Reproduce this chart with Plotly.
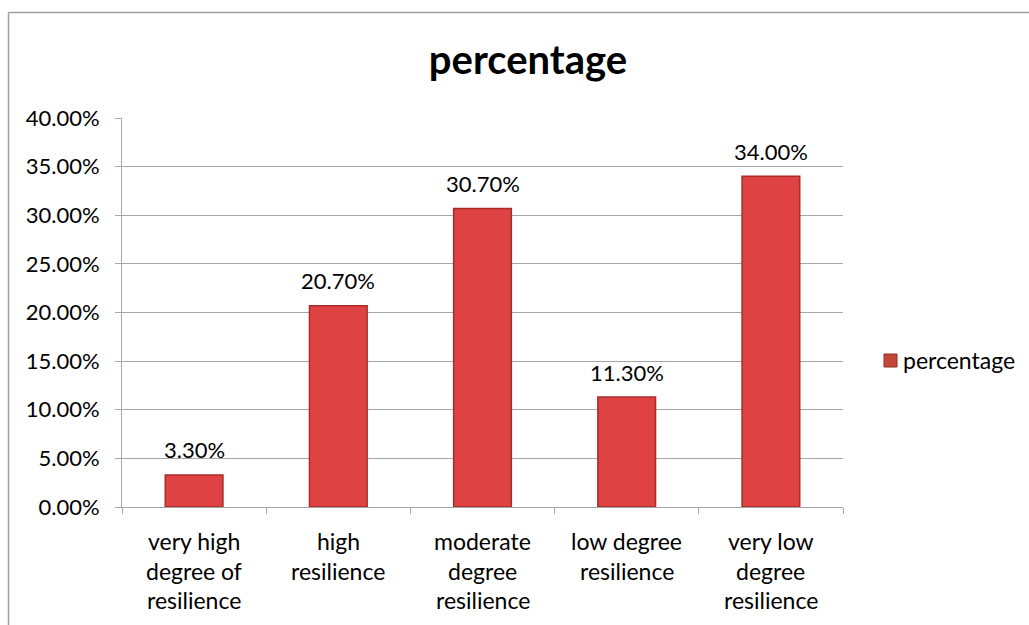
import plotly.graph_objects as go

categories = ["very high degree of resilience", "high resilience", "moderate degree resilience",
              "low degree resilience", "very low degree resilience"]
label_lines = [["very high", "degree of", "resilience"], ["high", "resilience"],
               ["moderate", "degree", "resilience"], ["low degree", "resilience"],
               ["very low", "degree", "resilience"]]
values = [3.3, 20.7, 30.7, 11.3, 34.0]
series_name = "percentage"
y_ticks = [0, 5, 10, 15, 20, 25, 30, 35, 40]
y_tick_text = [f"{v:.2f}%" for v in y_ticks]

FONT = "Lato, 'Noto Sans', sans-serif"
GRID = "#a6a6a6"
W, H = 1029, 625
L, R, T, B = 122, 843, 118, 507


def px_x(p):
    return (p - L) / (R - L)


def px_y(p):
    return (B - p) / (B - T)


fig = go.Figure()
fig.add_trace(go.Bar(
    x=categories, y=values, name=series_name, width=0.4, showlegend=False,
    marker=dict(color="#de4242", line=dict(color="#a82c2c", width=1.5)),
))

annotations = []
for cat, v in zip(categories, values):
    annotations.append(dict(x=cat, y=v, xref="x", yref="y", text=f"{v:.2f}%", showarrow=False,
                            yanchor="middle", yshift=25,
                            font=dict(size=22, color="#000000", family=FONT)))
for cat, lines in zip(categories, label_lines):
    for i, ln in enumerate(lines):
        annotations.append(dict(x=cat, y=0, xref="x", yref="y", text=ln, showarrow=False,
                                yanchor="middle", yshift=-34 - i * 29.5,
                                font=dict(size=23, color="#000000", family=FONT)))
# legend (drawn manually so that it fits like the reference)
annotations.append(dict(x=px_x(901), y=px_y(360), xref="paper", yref="paper", text=series_name,
                        showarrow=False, xanchor="left", yanchor="middle",
                        font=dict(size=23, color="#000000", family=FONT)))

fig.update_layout(
    width=W, height=H,
    margin=dict(l=L, r=W - R, t=T, b=H - B, autoexpand=False),
    paper_bgcolor="white", plot_bgcolor="white",
    title=dict(text="<b>percentage</b>", x=528 / W, xanchor="center",
               y=1 - 60 / H, yanchor="middle",
               font=dict(size=40, color="#000000", family=FONT)),
    showlegend=False,
    xaxis=dict(showticklabels=False, tickson="boundaries", ticks="outside", ticklen=6,
               tickcolor=GRID, showline=True, linecolor=GRID, linewidth=1, showgrid=False),
    yaxis=dict(range=[0, 40], tickvals=y_ticks, ticktext=y_tick_text, ticks="outside",
               ticklen=6, tickcolor=GRID, showline=True, linecolor=GRID, linewidth=1,
               showgrid=True, gridcolor=GRID, gridwidth=1, zeroline=False,
               ticklabelstandoff=11,
               tickfont=dict(size=22, color="#000000", family=FONT)),
    annotations=annotations,
    shapes=[
        dict(type="rect", xref="paper", yref="paper", x0=px_x(884), x1=px_x(897),
             y0=px_y(367), y1=px_y(354), fillcolor="#c4483a",
             line=dict(color="#8a2e22", width=1)),
        dict(type="line", xref="paper", yref="paper", x0=px_x(8.5), x1=1.5,
             y0=px_y(12.5), y1=px_y(12.5), line=dict(color="#a0a0a0", width=1.5)),
        dict(type="line", xref="paper", yref="paper", x0=px_x(8.5), x1=px_x(8.5),
             y0=px_y(12.5), y1=-1, line=dict(color="#a0a0a0", width=1.5)),
    ],
)

fig.write_html("out.html")
